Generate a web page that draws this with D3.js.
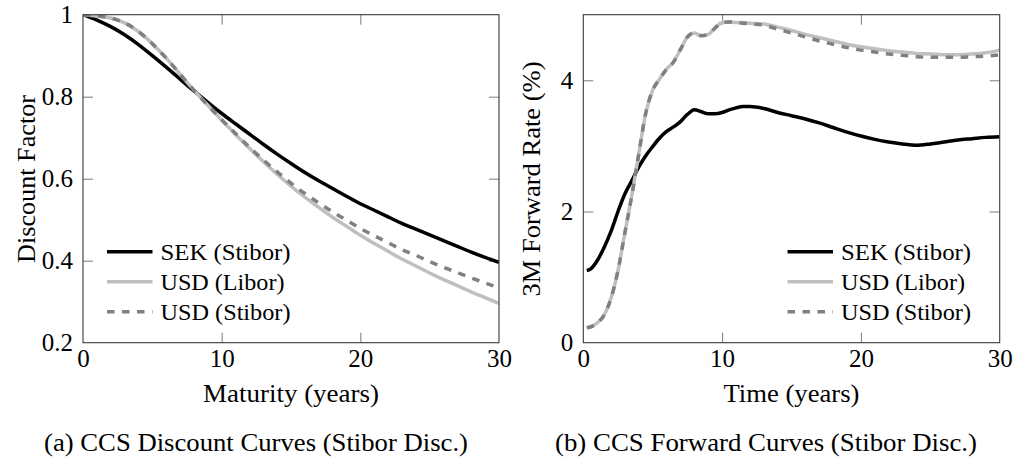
<!DOCTYPE html>
<html><head><meta charset="utf-8">
<script src="https://cdn.jsdelivr.net/npm/d3@7"></script>
<style>
body{margin:0;background:#fff}
svg{display:block}
</style>
</head><body>
<svg id="c" width="1015" height="461"></svg>
<script>
// ---------- data ----------
const maturities = [0,1,2,3,4,5,6,7,8,9,10,11,12,13,14,15,16,17,18,19,20,21,22,23,24,25,26,27,28,29,30];
const dfSEK = [1.000,0.987,0.971,0.951,0.927,0.900,0.872,0.843,0.814,0.786,0.759,0.734,0.709,0.684,0.660,0.637,0.615,0.595,0.576,0.557,0.539,0.523,0.507,0.491,0.477,0.463,0.449,0.435,0.421,0.408,0.396];
const dfUSDLibor = [1.000,0.997,0.992,0.980,0.959,0.929,0.894,0.855,0.816,0.779,0.743,0.708,0.674,0.642,0.611,0.582,0.555,0.530,0.506,0.484,0.462,0.442,0.423,0.404,0.387,0.370,0.354,0.339,0.324,0.310,0.296];
const dfUSDStibor = [1.000,0.997,0.992,0.980,0.959,0.929,0.894,0.855,0.816,0.779,0.744,0.710,0.677,0.646,0.617,0.589,0.564,0.541,0.519,0.499,0.479,0.461,0.444,0.427,0.413,0.398,0.384,0.371,0.358,0.346,0.333];

const fwdTimes = [0.25,0.5,1,1.5,2,2.5,3,3.5,4,4.5,5,5.5,6,6.5,7,7.5,8,8.5,9,9.5,10,10.5,11,11.5,12,13,14,15,16,17,18,19,20,21,22,23,24,25,26,27,28,29,30];
const fwdSEK = [1.10,1.12,1.25,1.45,1.70,2.00,2.27,2.47,2.68,2.85,2.99,3.12,3.22,3.29,3.37,3.48,3.55,3.52,3.49,3.49,3.51,3.55,3.58,3.60,3.60,3.57,3.51,3.46,3.41,3.35,3.28,3.21,3.15,3.10,3.06,3.03,3.01,3.03,3.06,3.09,3.11,3.13,3.14];
const fwdUSDLibor = [0.23,0.24,0.30,0.42,0.68,1.10,1.68,2.25,2.88,3.50,3.85,4.02,4.17,4.28,4.47,4.66,4.72,4.68,4.70,4.80,4.88,4.89,4.88,4.88,4.87,4.86,4.81,4.76,4.70,4.65,4.60,4.55,4.51,4.48,4.45,4.43,4.41,4.40,4.39,4.39,4.40,4.42,4.46];
const fwdUSDStibor = [0.23,0.24,0.30,0.42,0.68,1.10,1.68,2.25,2.88,3.50,3.85,4.02,4.17,4.28,4.47,4.66,4.72,4.68,4.70,4.80,4.88,4.89,4.88,4.87,4.86,4.84,4.78,4.72,4.66,4.60,4.55,4.50,4.46,4.43,4.40,4.38,4.36,4.35,4.35,4.35,4.36,4.37,4.39];

const xTicks = [0,10,20,30];
const dfTicks = [0.2,0.4,0.6,0.8,1];
const dfTickLabels = ["0.2","0.4","0.6","0.8","1"];
const fwdTicks = [0,2,4];
const fwdTickLabels = ["0","2","4"];
const seriesNames = ["SEK (Stibor)","USD (Libor)","USD (Stibor)"];

// ---------- style ----------
const FONT = '"Liberation Serif", "Times New Roman", serif';
const styles = [
  {color:"#000000", width:3.5, dash:null},
  {color:"#bfbfbf", width:3.5, dash:null},
  {color:"#808080", width:3.5, dash:"7.5,7.5"}
];
const FS = 25;

const svg = d3.select("#c");
svg.append("rect").attr("width",1015).attr("height",461).attr("fill","#fff");

function txt(sel){ return sel.attr("font-family",FONT).style("font-family",FONT).attr("fill","#000"); }

function panel(opt){
  const g = svg.append("g");
  const x = d3.scaleLinear().domain([0,30]).range([opt.left, opt.right]);
  const y = d3.scaleLinear().domain(opt.ydom).range([opt.bottom, opt.top]);
  const id = "clip"+opt.id;
  svg.append("clipPath").attr("id",id).append("rect")
    .attr("x",opt.left).attr("y",opt.top).attr("width",opt.right-opt.left).attr("height",opt.bottom-opt.top);

  const tickStyle = sel => { sel.attr("font-family",FONT).attr("font-size",FS); sel.select(".domain").remove(); sel.selectAll(".tick line").attr("stroke","#7a7a7a").attr("stroke-width",1); };
  const bx = g.append("g").attr("transform",`translate(0,${opt.bottom})`)
    .call(d3.axisBottom(x).tickValues(xTicks).tickSizeInner(-10).tickSizeOuter(0).tickPadding(7).tickFormat(d3.format("d")));
  tickStyle(bx);
  txt(bx.selectAll(".tick text"));
  const tx = g.append("g").attr("transform",`translate(0,${opt.top})`)
    .call(d3.axisTop(x).tickValues(xTicks).tickSizeInner(-10).tickSizeOuter(0).tickFormat(""));
  tickStyle(tx);
  const ly = g.append("g").attr("transform",`translate(${opt.left},0)`)
    .call(d3.axisLeft(y).tickValues(opt.yticks).tickSizeInner(-10).tickSizeOuter(0).tickPadding(10)
      .tickFormat((d,i)=>opt.ylabels[i]));
  tickStyle(ly);
  txt(ly.selectAll(".tick text"));
  const ry = g.append("g").attr("transform",`translate(${opt.right},0)`)
    .call(d3.axisRight(y).tickValues(opt.yticks).tickSizeInner(-10).tickSizeOuter(0).tickFormat(""));
  tickStyle(ry);
  [bx,tx].forEach(a=>a.selectAll(".tick").filter(d=>d===0||d===30).select("line").remove());
  [ly,ry].forEach(a=>a.selectAll(".tick").filter(d=>d===opt.ydom[0]||d===opt.ydom[1]).select("line").remove());

  const line = d3.line().x(d=>x(d[0])).y(d=>y(d[1])).curve(opt.curve);
  const lg = g.append("g").attr("clip-path",`url(#${id})`);
  opt.series.forEach((s,i)=>{
    const pts = opt.xs.map((t,k)=>[t,s[k]]);
    const p = lg.append("path").datum(pts).attr("d",line).attr("fill","none")
      .attr("stroke",styles[i].color).attr("stroke-width",styles[i].width)
      .attr("stroke-linejoin","round");
    if(styles[i].dash) p.attr("stroke-dasharray",styles[i].dash);
  });

  g.append("rect").attr("x",opt.left).attr("y",opt.top).attr("width",opt.right-opt.left).attr("height",opt.bottom-opt.top)
    .attr("fill","none").attr("stroke","#3a3a3a").attr("stroke-width",1.1);

  const legW = [130,124,130];
  seriesNames.forEach((n,i)=>{
    const yy = opt.legY + i*30;
    const p = g.append("line").attr("x1",opt.legX).attr("x2",opt.legX+45.5).attr("y1",yy).attr("y2",yy)
      .attr("stroke",styles[i].color).attr("stroke-width",styles[i].width);
    if(styles[i].dash) p.attr("stroke-dasharray",styles[i].dash);
    txt(g.append("text")).attr("x",opt.legX+53.5).attr("y",yy+7.8).attr("font-size",24)
      .attr("textLength",legW[i]).attr("lengthAdjust","spacingAndGlyphs").text(n);
  });

  txt(g.append("text")).attr("x",(opt.left+opt.right)/2).attr("y",401.5).attr("text-anchor","middle").attr("font-size",FS)
    .attr("textLength",opt.xlabW).attr("lengthAdjust","spacingAndGlyphs").text(opt.xlabel);
  txt(g.append("text")).attr("transform",`translate(${opt.ylabX},179) rotate(-90)`).attr("text-anchor","middle").attr("font-size",FS)
    .attr("textLength",opt.ylabW).attr("lengthAdjust","spacingAndGlyphs").text(opt.ylabel);
  txt(g.append("text")).attr("x",opt.capX).attr("y",450.5).attr("text-anchor","middle").attr("font-size",FS)
    .attr("textLength",opt.capW).attr("lengthAdjust","spacingAndGlyphs").text(opt.caption);
}

panel({id:"a", left:83, right:499, top:14.7, bottom:342.7, ydom:[0.2,1], yticks:dfTicks, ylabels:dfTickLabels,
  xs:maturities, series:[dfSEK,dfUSDLibor,dfUSDStibor], legX:107, legY:251.7, curve:d3.curveNatural,
  xlabel:"Maturity (years)", xlabW:176, ylabel:"Discount Factor", ylabW:168, ylabX:35,
  caption:"(a) CCS Discount Curves (Stibor Disc.)", capX:256, capW:424});
panel({id:"b", left:583.3, right:999.7, top:14.7, bottom:342.7, ydom:[0,5], yticks:fwdTicks, ylabels:fwdTickLabels,
  xs:fwdTimes, series:[fwdSEK,fwdUSDLibor,fwdUSDStibor], legX:787.5, legY:251.7, curve:d3.curveMonotoneX,
  xlabel:"Time (years)", xlabW:136, ylabel:"3M Forward Rate (%)", ylabW:235, ylabX:540,
  caption:"(b) CCS Forward Curves (Stibor Disc.)", capX:766, capW:422});
</script>
</body></html>
